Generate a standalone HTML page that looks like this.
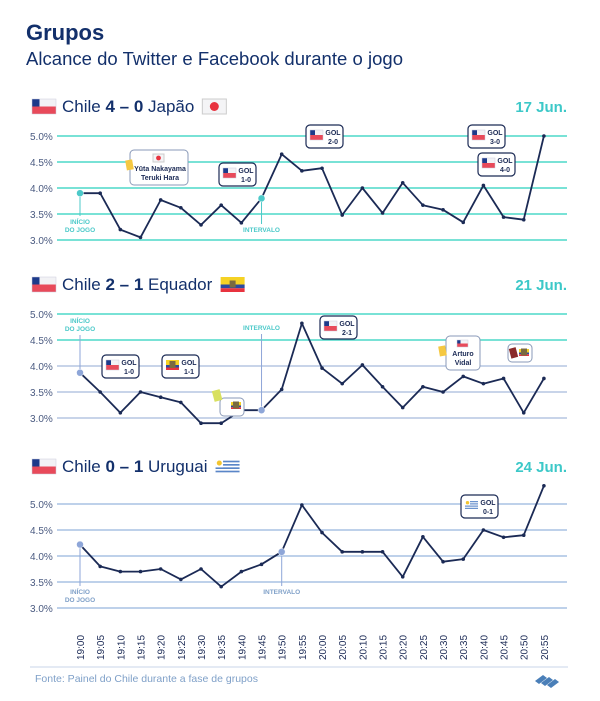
<!DOCTYPE html>
<html><head><meta charset="utf-8"><style>
body{margin:0;background:#fff;}
svg{display:block;font-family:"Liberation Sans",sans-serif;}
</style></head><body>
<svg id="s" width="600" height="701" viewBox="0 0 600 701" xmlns="http://www.w3.org/2000/svg">
<text x="26" y="40" font-size="22" font-weight="bold" fill="#13306b">Grupos</text>
<text x="26" y="65" font-size="18.5" fill="#13306b" textLength="377">Alcance do Twitter e Facebook durante o jogo</text>
<g id="g"></g>
<line x1="30" y1="667" x2="568" y2="667" stroke="#c8d6e8" stroke-width="1"/>
<text x="35" y="682" font-size="10.5" fill="#7fa0c8">Fonte: Painel do Chile durante a fase de grupos</text>
<g transform="translate(535,675)" fill="#4a7fb8"><polygon points="0,6 8,0 12,3 4,9"/><polygon points="6,8 14,2 18,5 10,11"/><polygon points="12,10 20,4 24,7 16,13"/></g>
</svg>
<script>
var NS="http://www.w3.org/2000/svg",g=document.getElementById('g');
function el(t,a,txt){var e=document.createElementNS(NS,t);for(var k in a)e.setAttribute(k,a[k]);if(txt!=null)e.textContent=txt;g.appendChild(e);return e;}
function flagCL(x,y,w,h){el('rect',{x:x,y:y,width:w,height:h,fill:'#e84a5a'});el('rect',{x:x,y:y,width:w,height:h/2,fill:'#f2f2f5'});el('rect',{x:x,y:y,width:h/2,height:h/2,fill:'#1d3a8a'});el('rect',{x:x,y:y,width:w,height:h,fill:'none',stroke:'#ccd',"stroke-width":0.5});}
function flagJP(x,y,w,h){el('rect',{x:x,y:y,width:w,height:h,fill:'#f4f4f6',stroke:'#ccc'});el('circle',{cx:x+w/2,cy:y+h/2,r:h*0.3,fill:'#e8333f'});}
function flagEC(x,y,w,h){el('rect',{x:x,y:y,width:w,height:h/2,fill:'#f5d224'});el('rect',{x:x,y:y+h/2,width:w,height:h/4,fill:'#2b4aa0'});el('rect',{x:x,y:y+3*h/4,width:w,height:h/4,fill:'#e8333f'});el('rect',{x:x+w/2-3,y:y+h/2-4,width:6,height:7,fill:'#7a6a40'});}
function flagUY(x,y,w,h){el('rect',{x:x,y:y,width:w,height:h,fill:'#fff'});for(var i=1;i<9;i+=2)el('rect',{x:x,y:y+i*h/9,width:w,height:h/9,fill:'#5a86c8'});el('rect',{x:x,y:y,width:h*0.5,height:h*0.55,fill:'#fff'});el('circle',{cx:x+h*0.25,cy:y+h*0.27,r:h*0.17,fill:'#f3c530'});}
function gol(x,y,txt,flag){el('rect',{x:x,y:y,width:37,height:23,rx:4,fill:'#fff',stroke:'#1b2a55','stroke-width':1.2});flag(x+4,y+5,13,10);el('text',{x:x+27,y:y+10,'font-size':7,'font-weight':'bold','text-anchor':'middle',fill:'#1b2a55'},'GOL');el('text',{x:x+27,y:y+19,'font-size':7,'font-weight':'bold','text-anchor':'middle',fill:'#1b2a55'},txt);}
var charts=[
{y5:136,title:['Chile ','4 – 0',' Japão'],date:'17 Jun.',ty:112,f2:flagJP,grid:['#4dd9c9','#4dd9c9','#4dd9c9','#4dd9c9','#4dd9c9'],mc:'#4cc9c9',lc:'#4cc9c9',
 lab:[[224,232],[232]],
 d:[3.9,3.9,3.2,3.05,3.77,3.62,3.29,3.67,3.33,3.8,4.65,4.33,4.38,3.48,4.0,3.52,4.1,3.67,3.58,3.34,4.05,3.44,3.39,5.0],m:[0,9]},
{y5:314,title:['Chile ','2 – 1',' Equador'],date:'21 Jun.',ty:290,f2:flagEC,grid:['#4dd9c9','#4dd9c9','#b6c6e2','#b6c6e2','#b6c6e2'],mc:'#8ea6d8',lc:'#4cc9c9',
 lab:[[323,331],[330]],
 d:[3.87,3.5,3.1,3.5,3.4,3.3,2.9,2.9,3.15,3.15,3.55,4.82,3.96,3.66,4.02,3.6,3.2,3.6,3.5,3.8,3.66,3.76,3.1,3.76],m:[0,9]},
{y5:504,title:['Chile ','0 – 1',' Uruguai'],date:'24 Jun.',ty:472,f2:flagUY,grid:['#a9c2e4','#a9c2e4','#a9c2e4','#a9c2e4','#a9c2e4'],mc:'#8ea6d8',lc:'#7fa0c8',
 lab:[[594,602],[594]],
 d:[4.22,3.8,3.7,3.7,3.75,3.55,3.75,3.41,3.7,3.84,4.08,4.98,4.45,4.08,4.08,4.08,3.6,4.37,3.89,3.94,4.5,4.36,4.4,5.35],m:[0,10]}];
function X(i){return 80+i*20.17;}
charts.forEach(function(c,ci){
 var labs=['5.0%','4.5%','4.0%','3.5%','3.0%'];
 for(var k=0;k<5;k++){var y=c.y5+k*26;el('line',{x1:57,y1:y,x2:567,y2:y,stroke:c.grid[k],'stroke-width':1.5});el('text',{x:30,y:y+4,'font-size':10,fill:'#4a5a80'},labs[k]);}
 flagCL(32,c.ty-13,24,15);
 var t=el('text',{x:62,y:c.ty,'font-size':17,fill:'#13306b'});
 ['','bold',''].forEach(function(w,j){var s=document.createElementNS(NS,'tspan');if(w)s.setAttribute('font-weight','bold');s.textContent=c.title[j];t.appendChild(s);});
 var bb=t.getBBox();c.f2(bb.x+bb.width+8,c.ty-13,24,15);
 el('text',{x:567,y:c.ty,'font-size':15,'font-weight':'bold',fill:'#3cc8c8','text-anchor':'end'},c.date);
 var Y=function(v){return c.y5+(5-v)*52;};
 c.m.forEach(function(i,j){var x=X(i),y=Y(c.d[i]);var lbl=j==0?['INÍCIO','DO JOGO']:['INTERVALO'];var ly=c.lab[j];
  if(ci==1){el('line',{x1:x,y1:y,x2:x,y2:ly[ly.length-1]+4,stroke:c.mc,'stroke-width':1});}
  else{el('line',{x1:x,y1:y,x2:x,y2:ly[0]-8,stroke:c.mc,'stroke-width':1});}
  lbl.forEach(function(s,q){el('text',{x:x,y:ly[q],'font-size':6.5,'font-weight':'bold',fill:c.lc,'text-anchor':'middle'},s);});
 });
 var pts=c.d.map(function(v,i){return X(i).toFixed(1)+','+Y(v).toFixed(1);}).join(' ');
 el('polyline',{points:pts,fill:'none',stroke:'#1b2a55','stroke-width':1.8,'stroke-linejoin':'round'});
 c.d.forEach(function(v,i){el('circle',{cx:X(i),cy:Y(v),r:1.8,fill:'#1b2a55'});});
 c.m.forEach(function(i){el('circle',{cx:X(i),cy:Y(c.d[i]),r:3.5,fill:c.mc,stroke:'#fff','stroke-width':0.5});});
});
gol(219,163,'1-0',flagCL);gol(306,125,'2-0',flagCL);gol(468,125,'3-0',flagCL);gol(478,153,'4-0',flagCL);
el('rect',{x:130,y:150,width:58,height:35,rx:4,fill:'#fff',stroke:'#8a9ab8'});flagJP(153,154,11,8);
el('text',{x:160,y:171,'font-size':7,'font-weight':'bold',fill:'#1b2a55','text-anchor':'middle'},'Yūta Nakayama');
el('text',{x:160,y:180,'font-size':7,'font-weight':'bold',fill:'#1b2a55','text-anchor':'middle'},'Teruki Hara');
el('rect',{x:126,y:160,width:7,height:10,fill:'#f5c842',transform:'rotate(-10 129 165)'});
gol(102,355,'1-0',flagCL);gol(162,355,'1-1',flagEC);gol(320,316,'2-1',flagCL);
el('rect',{x:220,y:398,width:24,height:18,rx:4,fill:'#fff',stroke:'#8a9ab8'});el('rect',{x:213,y:390,width:8,height:11,fill:'#d8e060',transform:'rotate(-15 217 395)'});flagEC(231,402,10,7);
el('rect',{x:446,y:336,width:34,height:34,rx:4,fill:'#fff',stroke:'#8a9ab8'});flagCL(457,340,11,7);
el('text',{x:463,y:356,'font-size':7,'font-weight':'bold',fill:'#1b2a55','text-anchor':'middle'},'Arturo');
el('text',{x:463,y:365,'font-size':7,'font-weight':'bold',fill:'#1b2a55','text-anchor':'middle'},'Vidal');
el('rect',{x:439,y:346,width:7,height:10,fill:'#f5c842',transform:'rotate(-10 442 351)'});
el('rect',{x:508,y:344,width:24,height:18,rx:4,fill:'#fff',stroke:'#8a9ab8'});el('rect',{x:510,y:348,width:7,height:10,fill:'#8a2a2a',transform:'rotate(-15 513 353)'});flagEC(519,349,10,7);
gol(461,495,'0-1',flagUY);
for(var i=0;i<24;i++){var h=19+Math.floor(i/12),m=(i%12)*5;var s=h+':'+(m<10?'0':'')+m;var x=X(i)+4;
 el('text',{x:x,y:660,'font-size':10,fill:'#1b2a55',transform:'rotate(-90 '+x+' 660)'},s);}
</script>
</body></html>
